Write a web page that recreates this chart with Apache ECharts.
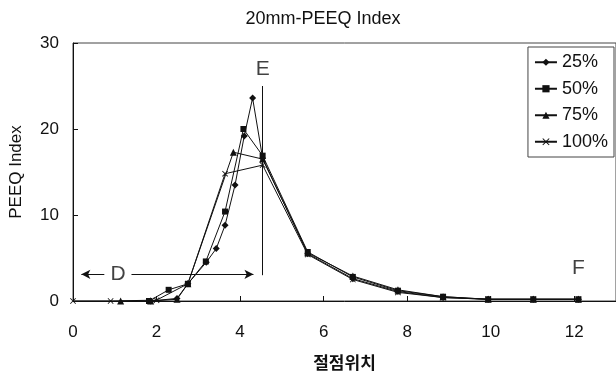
<!DOCTYPE html>
<html lang="ko">
<head>
<meta charset="UTF-8">
<title>20mm-PEEQ Index</title>
<script src="https://cdn.jsdelivr.net/npm/echarts@6/dist/echarts.min.js"></script>
<style>
  html, body { margin: 0; padding: 0; background: #fff; }
  #chart { width: 616px; height: 376px; }
</style>
</head>
<body>
<div id="chart"></div>
<script>
// node positions (x) and PEEQ index values (y) for each load case
const x25  = [1.86, 2.49, 2.75, 3.19, 3.43, 3.64, 3.88, 4.10, 4.30, 4.54, 5.62, 6.70, 7.78, 8.86, 9.94, 11.02, 12.10];
const y25  = [0, 0.3, 2.0, 4.5, 6.1, 8.8, 13.5, 19.2, 23.6, 16.6, 5.5, 2.6, 1.1, 0.4, 0.2, 0.2, 0.2];

const x50  = [1.82, 2.29, 2.75, 3.18, 3.64, 4.08, 4.54, 5.62, 6.70, 7.78, 8.86, 9.94, 11.02, 12.10];
const y50  = [0, 1.3, 2.0, 4.6, 10.4, 20.0, 16.9, 5.7, 2.8, 1.2, 0.5, 0.2, 0.2, 0.2];

const x75  = [1.14, 1.86, 2.49, 2.75, 3.84, 4.54, 5.62, 6.70, 7.78, 8.86, 9.94, 11.02, 12.10];
const y75  = [0, 0, 0.2, 2.0, 17.3, 16.5, 5.6, 2.9, 1.3, 0.5, 0.2, 0.2, 0.2];

const x100 = [0, 0.9, 2.0, 2.75, 3.64, 4.54, 5.62, 6.70, 7.78, 8.86, 9.94, 11.02, 12.10];
const y100 = [0, 0, 0.1, 2.0, 14.8, 15.8, 5.4, 2.5, 1.0, 0.4, 0.2, 0.2, 0.2];

const seriesNames = ['25%', '50%', '75%', '100%'];

// annotation letters [x, y, text]
const notes = [[4.54, 26.9, 'E'], [1.08, 3.1, 'D'], [12.1, 3.8, 'F']];

const pair = (xs, ys) => xs.map((x, i) => [x, ys[i]]);

const ink = '#111';
const crossPath = 'path://M0,1L1,0L5,4L9,0L10,1L6,5L10,9L9,10L5,6L1,10L0,9L4,5Z';

function lineSeries(name, data, symbol, size) {
  return {
    name: name,
    type: 'line',
    data: data,
    symbol: symbol,
    symbolSize: size,
    showAllSymbol: true,
    lineStyle: { color: ink, width: 1 },
    itemStyle: { color: ink },
    emphasis: { disabled: true },
    z: 3
  };
}

const chart = echarts.init(document.getElementById('chart'));

chart.setOption({
  animation: false,
  backgroundColor: '#fff',
  textStyle: { fontFamily: 'Liberation Sans, Arial, sans-serif', color: ink },
  title: {
    text: '20mm-PEEQ Index',
    left: 318,
    top: 5,
    textAlign: 'center',
    textStyle: { fontSize: 18, fontWeight: 'normal', color: ink, fontFamily: 'Liberation Sans Narrow, Liberation Sans, sans-serif' }
  },
  grid: {
    left: 72, right: 0, top: 43, bottom: 72,
    show: true, borderColor: '#444', borderWidth: 1
  },
  legend: {
    data: seriesNames,
    orient: 'vertical',
    right: 2,
    top: 47,
    padding: [6, 6, 6, 6],
    itemGap: 8,
    itemWidth: 22,
    itemHeight: 9,
    borderColor: '#444',
    borderWidth: 1,
    backgroundColor: '#fff',
    textStyle: { fontSize: 18, color: ink, lineHeight: 18.5 }
  },
  xAxis: {
    type: 'value',
    min: 0, max: 13, interval: 2,
    name: '절점위치',
    nameLocation: 'middle',
    nameGap: 53,
    nameTextStyle: { fontSize: 17, fontWeight: 'bold', color: ink, fontFamily: 'Noto Sans CJK KR, sans-serif' },
    axisLine: { lineStyle: { color: ink, width: 1 } },
    axisTick: { inside: true, length: 5, lineStyle: { color: ink } },
    axisLabel: { fontSize: 17, color: ink, margin: 23, showMaxLabel: false },
    splitLine: { show: false }
  },
  yAxis: {
    type: 'value',
    min: 0, max: 30, interval: 10,
    name: 'PEEQ Index',
    nameLocation: 'middle',
    nameGap: 48,
    nameTextStyle: { fontSize: 17, color: ink },
    axisLine: { show: true, lineStyle: { color: ink, width: 1 } },
    axisTick: { show: true, inside: true, length: 5, lineStyle: { color: ink } },
    axisLabel: { fontSize: 17, color: ink, margin: 14 },
    splitLine: { show: false }
  },
  series: [
    lineSeries('25%', pair(x25, y25), 'diamond', 7),
    lineSeries('50%', pair(x50, y50), 'rect', 6),
    lineSeries('75%', pair(x75, y75), 'triangle', 7),
    lineSeries('100%', pair(x100, y100), crossPath, 6),
    {
      name: 'notes',
      type: 'scatter',
      data: notes.map(n => ({ value: [n[0], n[1]], label: { formatter: n[2] } })),
      symbolSize: 0,
      silent: true,
      label: {
        show: true, position: 'inside',
        fontSize: 21, color: ink,
        backgroundColor: '#fff', padding: [0, 4]
      },
      z: 5,
      markLine: {
        silent: true,
        symbol: ['none', 'arrow'],
        symbolSize: [7, 9],
        label: { show: false },
        lineStyle: { color: ink, width: 1, type: 'solid' },
        data: [
          [{ coord: [4.54, 3], symbol: 'none' }, { coord: [4.54, 25], symbol: 'none' }],
          [{ coord: [0.75, 3.1] }, { coord: [0.2, 3.1] }],
          [{ coord: [1.4, 3.1] }, { coord: [4.32, 3.1] }]
        ]
      }
    }
  ]
});
</script>
</body>
</html>
